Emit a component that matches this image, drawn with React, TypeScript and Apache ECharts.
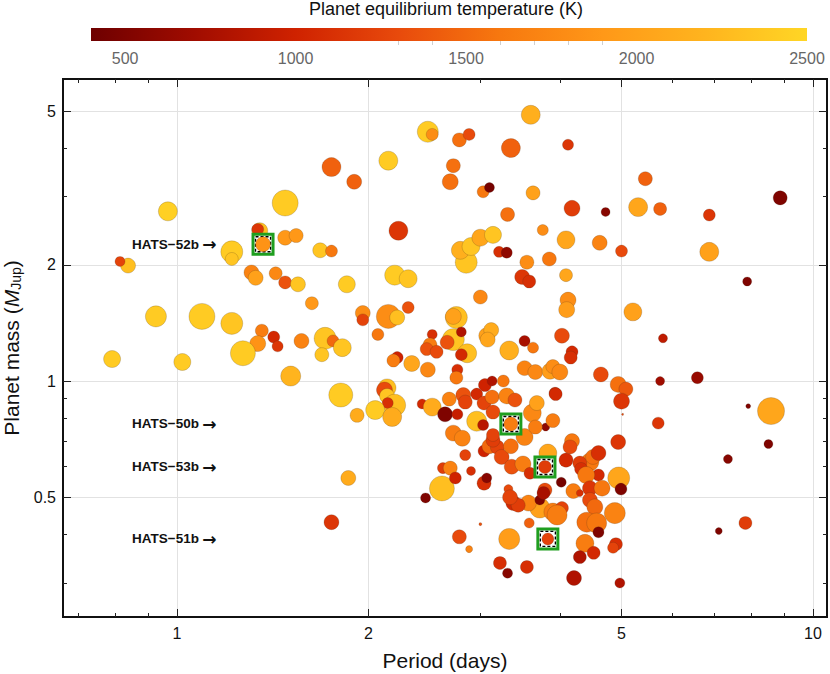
import React, { useEffect, useRef } from 'react';
import * as echarts from 'echarts';

// ---------- data ----------
const periodDays = [
  0.968, 1.48, 1.35, 1.34, 1.48, 1.54, 1.22, 1.22, 1.68, 1.75,
  0.838, 0.814, 1.31, 1.33, 1.43, 1.48, 1.55, 1.63, 0.927, 1.095,
  1.22, 1.36, 1.34, 1.42, 1.44, 1.27, 1.57, 0.791, 1.02, 1.51,
  2.85, 2.79, 2.90, 3.00, 3.14, 3.21, 3.30, 3.55, 3.85, 3.49,
  3.58, 3.00, 2.20, 2.31, 1.85, 1.96, 1.96, 2.15, 2.22, 2.31,
  2.07, 2.75, 2.72, 1.71, 1.76, 1.82, 1.69, 2.52, 2.50, 2.47,
  2.56, 2.72, 2.66, 2.80, 2.86, 2.80, 2.22, 2.19, 2.34, 2.48,
  2.76, 2.75, 3.07, 3.12, 3.08, 3.33, 3.52, 3.63, 3.52, 3.66,
  3.86, 3.90, 1.81, 1.92, 2.14, 2.12, 2.14, 2.20, 2.145, 2.05,
  2.18, 2.43, 2.52, 2.64, 2.76, 2.68, 2.82, 2.84, 2.96, 3.05,
  3.13, 3.26, 3.04, 3.13, 3.14, 3.30, 3.40, 2.96, 3.03, 3.62,
  3.68, 3.80, 3.93, 3.90, 3.60, 2.48, 2.52, 2.78, 2.88, 3.35,
  1.75, 2.15, 1.90, 2.72, 2.69, 3.03, 3.10, 3.63, 3.31, 3.76,
  2.23, 4.12, 5.45, 4.18, 4.72, 5.31, 5.75, 6.87, 8.88, 4.09,
  4.62, 5.0, 6.87, 4.09, 7.88, 4.12, 4.10, 5.21, 4.03, 5.81,
  4.18, 4.16, 4.00, 4.64, 5.75, 6.58, 4.94, 5.08, 5.0, 5.02,
  3.94, 7.91, 8.59, 5.71, 1.86, 1.75, 2.46, 2.61, 2.62, 2.69,
  2.74, 2.84, 2.90, 2.72, 2.81, 3.04, 3.07, 3.04, 3.10, 3.19,
  3.14, 3.24, 3.35, 3.36, 3.14, 3.52, 3.32, 3.00, 2.78, 2.88,
  3.33, 3.22, 3.31, 3.55, 3.58, 3.50, 3.59, 3.66, 3.83, 3.72,
  3.57, 3.90, 3.79, 3.72, 3.77, 3.38, 3.44, 3.34, 4.94, 8.51,
  7.35, 4.18, 4.15, 4.09, 4.46, 4.30, 4.32, 4.51, 4.60, 4.60,
  4.40, 4.95, 4.99, 4.02, 4.20, 4.30, 4.46, 4.66, 4.46, 4.54,
  4.03, 3.96, 4.41, 4.57, 4.88, 4.60, 4.38, 4.90, 4.85, 4.52,
  4.30, 4.21, 4.97, 7.11, 7.83,
];

const massMJ = [
  2.75, 2.89, 2.45, 2.47, 2.35, 2.38, 2.16, 2.07, 2.18, 2.17,
  1.99, 2.04, 1.91, 1.85, 1.90, 1.80, 1.78, 1.59, 1.47, 1.47,
  1.41, 1.35, 1.25, 1.30, 1.23, 1.18, 1.27, 1.14, 1.12, 1.03,
  2.03, 2.18, 2.23, 2.35, 2.39, 2.16, 2.15, 2.03, 2.07, 1.86,
  1.81, 1.65, 1.88, 1.84, 1.78, 1.50, 1.44, 1.47, 1.46, 1.55,
  1.32, 1.46, 1.47, 1.29, 1.27, 1.22, 1.17, 1.32, 1.24, 1.21,
  1.19, 1.28, 1.26, 1.34, 1.18, 1.17, 1.15, 1.13, 1.11, 1.07,
  1.07, 1.02, 1.31, 1.355, 1.28, 1.20, 1.27, 1.22, 1.08, 1.055,
  1.06, 1.09, 0.92, 0.815, 0.96, 0.948, 0.915, 0.866, 0.877, 0.841,
  0.807, 0.872, 0.856, 0.82, 0.82, 0.898, 0.92, 0.882, 0.925, 0.976,
  1.0, 1.0, 0.877, 0.909, 0.831, 0.915, 0.893, 0.787, 0.769, 0.826,
  0.877, 0.76, 0.93, 0.79, 4.89, 4.42, 4.35, 4.21, 4.35, 4.01,
  3.58, 3.72, 3.28, 3.61, 3.28, 3.09, 3.17, 3.07, 2.70, 2.46,
  2.45, 4.09, 3.34, 2.80, 2.74, 2.82, 2.79, 2.69, 2.98, 2.32,
  2.28, 2.17, 2.16, 1.88, 1.81, 1.62, 1.53, 1.51, 1.31, 1.29,
  1.19, 1.15, 1.055, 1.04, 1.0, 1.02, 0.98, 0.953, 0.887, 0.82,
  0.925, 0.861, 0.836, 0.778, 0.561, 0.431, 0.498, 0.527, 0.595, 0.595,
  0.561, 0.643, 0.585, 0.733, 0.711, 0.544, 0.561, 0.659, 0.678, 0.674,
  0.703, 0.636, 0.678, 0.60, 0.725, 0.716, 0.525, 0.426, 0.395, 0.367,
  0.39, 0.338, 0.318, 0.33, 0.429, 0.61, 0.577, 0.76, 0.651, 0.469,
  0.483, 0.458, 0.522, 0.492, 0.513, 0.483, 0.477, 0.50, 0.695, 0.687,
  0.628, 0.699, 0.675, 0.624, 0.617, 0.613, 0.592, 0.636, 0.651, 0.571,
  0.571, 0.561, 0.525, 0.547, 0.519, 0.513, 0.528, 0.528, 0.492, 0.472,
  0.469, 0.45, 0.431, 0.429, 0.455, 0.406, 0.38, 0.378, 0.37, 0.359,
  0.35, 0.309, 0.30, 0.409, 0.429,
];

const teqK = [
  2450, 2400, 2300, 1150, 1900, 1900, 2400, 2350, 2350, 1600,
  2300, 1250, 1700, 2000, 1750, 1350, 2350, 1900, 2400, 2400,
  2350, 1650, 1850, 1050, 1150, 2400, 1700, 2400, 2400, 2200,
  2350, 2150, 2350, 2050, 2350, 1100, 600, 1800, 1600, 1150,
  1100, 1750, 2400, 2350, 2400, 1800, 1250, 1800, 2300, 1350,
  1600, 2300, 2000, 2350, 1500, 2350, 2350, 1100, 1650, 1350,
  1300, 2350, 1350, 800, 2300, 1050, 1000, 1650, 2050, 1750,
  1100, 1600, 2000, 2100, 2050, 2150, 750, 1600, 1700, 1750,
  1950, 1800, 2400, 2100, 2300, 1300, 2350, 2300, 1100, 2400,
  2100, 1050, 2100, 500, 950, 1700, 1350, 1250, 1050, 1000,
  800, 1600, 1250, 1550, 1300, 1700, 1350, 2300, 850, 1750,
  2000, 600, 1050, 1650, 2150, 2400, 1800, 1550, 1300, 1450,
  1450, 2400, 1450, 1550, 1550, 1600, 450, 2000, 1550, 1800,
  1150, 1150, 1450, 1200, 550, 2050, 1450, 1150, 500, 2050,
  1700, 1300, 2000, 2050, 500, 1800, 1950, 2000, 1300, 900,
  1050, 1100, 1750, 1300, 700, 650, 1550, 1400, 1150, 1300,
  1050, 500, 2050, 1150, 2100, 1150, 500, 2300, 1200, 1700,
  1000, 1250, 1100, 1650, 1700, 1100, 550, 1000, 1500, 1250,
  1200, 1300, 1550, 1350, 1250, 1700, 1300, 1350, 1300, 1700,
  1950, 1100, 550, 1100, 1450, 1650, 1100, 1650, 2050, 2000,
  1700, 1650, 1300, 500, 750, 1050, 1200, 1250, 1150, 500,
  550, 1600, 1300, 1050, 1600, 1200, 1100, 1550, 1100, 1050,
  1600, 2050, 500, 450, 1650, 1100, 1150, 1600, 1300, 1500,
  1250, 1650, 1550, 1600, 1700, 500, 1650, 1100, 1250, 1050,
  800, 800, 800, 500, 1200,
];

const radiusRJ = [
  1.46, 2.0, 1.23, 0.92, 1.15, 1.08, 1.69, 1.0, 1.15, 0.92,
  1.15, 0.77, 1.15, 1.15, 1.0, 1.0, 1.15, 1.0, 1.62, 2.0,
  1.69, 1.0, 1.23, 0.92, 0.85, 1.92, 1.15, 1.31, 1.31, 1.54,
  1.69, 1.38, 1.38, 1.31, 1.31, 0.85, 0.85, 1.08, 1.08, 1.15,
  1.0, 1.08, 1.54, 1.38, 1.31, 1.15, 0.92, 1.85, 1.15, 0.92,
  0.92, 1.69, 1.23, 1.69, 0.92, 1.38, 1.08, 0.77, 1.08, 1.0,
  1.0, 1.69, 1.08, 0.77, 1.46, 0.92, 0.92, 1.0, 1.23, 1.15,
  0.85, 1.0, 1.23, 1.15, 1.15, 1.46, 0.85, 0.85, 1.15, 1.15,
  1.23, 1.08, 1.85, 1.08, 1.38, 1.23, 1.15, 1.69, 0.85, 1.46,
  1.46, 0.77, 1.38, 1.15, 0.85, 1.08, 1.15, 1.08, 0.92, 1.0,
  0.77, 0.92, 1.08, 1.08, 1.08, 1.23, 1.08, 1.54, 0.85, 1.38,
  1.15, 0.62, 0.92, 1.08, 1.46, 1.62, 0.92, 1.08, 0.92, 1.46,
  1.46, 1.46, 1.15, 1.08, 1.23, 0.92, 0.77, 1.08, 1.08, 0.85,
  1.46, 0.85, 1.08, 1.23, 0.69, 1.46, 1.0, 0.92, 1.08, 1.38,
  1.15, 0.92, 1.46, 1.0, 0.69, 1.23, 1.23, 1.38, 1.15, 0.69,
  0.92, 1.0, 1.23, 1.15, 0.69, 0.92, 1.23, 1.08, 1.23, 0.15,
  1.0, 0.38, 2.08, 0.92, 1.15, 1.15, 0.77, 1.92, 0.85, 1.08,
  0.92, 0.85, 0.69, 1.23, 1.23, 1.08, 0.77, 0.92, 1.15, 1.08,
  1.08, 1.15, 1.15, 1.15, 1.0, 1.31, 0.69, 0.23, 1.08, 0.54,
  1.62, 1.0, 0.77, 1.0, 0.77, 1.23, 0.92, 1.08, 1.38, 1.54,
  1.23, 1.38, 1.08, 0.77, 1.0, 1.15, 1.08, 1.15, 1.15, 0.69,
  0.69, 1.15, 1.08, 1.08, 1.38, 1.08, 1.0, 1.15, 1.15, 0.92,
  1.31, 1.69, 0.92, 0.77, 1.15, 0.54, 1.15, 1.23, 1.15, 1.23,
  1.0, 1.54, 1.54, 1.54, 1.62, 0.85, 1.38, 1.0, 0.85, 1.0,
  1.0, 1.15, 0.77, 0.54, 1.0,
];

const hatsNames = ['HATS-52b', 'HATS-50b', 'HATS-53b', 'HATS-51b'];
const hatsPeriod = [1.366, 3.35, 3.79, 3.83];
const hatsMass = [2.26, 0.774, 0.599, 0.39];
const hatsTeq = [1850, 1650, 1200, 1250];
const hatsRadius = [1.15, 1.08, 1.0, 0.92];

const xMajorTicks = [1, 2, 5, 10];
const xMinorTicks = [0.7, 0.8, 0.9, 3, 4, 6, 7, 8, 9];
const yMajorTicks = [0.5, 1, 2, 5];
const yMinorTicks = [0.3, 0.4, 0.6, 0.7, 0.8, 0.9, 3, 4];
const tempTicks = [500, 1000, 1500, 2000, 2500];
const tempMinorTicks = [1300, 1400, 1600, 1700, 1800, 1900];
const tempMin = 400;
const tempMax = 2500;
const tempColors = ['#6e0000', '#a00c00', '#cf2200', '#e84a0c', '#f7780f', '#ff9818', '#ffb41e', '#ffd625'];

// ---------- styling / layout ----------
const FONT = '"Liberation Sans", Arial, Helvetica, sans-serif';
const PX_PER_RJ = 13;
const X_EXT = [-0.179, 1.022];
const Y_EXT = [-0.611, 0.782];
const lg = (v: number) => Math.log10(v);
const fmtPow = (v: number) => String(Math.round(Math.pow(10, v) * 100) / 100);

function tickAxis(kind: 'x' | 'y', position: string, values: number[], len: number, labels: boolean, main: boolean): any {
  const ext = kind === 'x' ? X_EXT : Y_EXT;
  const logVals = values.map(lg);
  const ax: any = {
    gridIndex: 0,
    type: 'value',
    position,
    min: ext[0],
    max: ext[1],
    axisLine: { show: false, onZero: false },
    axisTick: { show: true, inside: true, length: len, customValues: logVals, lineStyle: { color: '#222', width: 1 } },
    axisLabel: labels
      ? { show: true, customValues: logVals, formatter: fmtPow, fontSize: 16, color: '#111', fontFamily: FONT, margin: kind === 'x' ? 8 : 7 }
      : { show: false },
    splitLine: main ? { show: true, lineStyle: { color: '#e2e2e2', width: 1 } } : { show: false },
  };
  return ax;
}

function buildOption(): any {
  const points = periodDays.map((p, i) => [lg(p), lg(massMJ[i]), teqK[i], radiusRJ[i]]);
  const hats = hatsNames.map((n, i) => [lg(hatsPeriod[i]), lg(hatsMass[i]), hatsTeq[i], hatsRadius[i]]);

  const xBottom = tickAxis('x', 'bottom', xMajorTicks, 8, true, true);
  xBottom.name = 'Period (days)';
  xBottom.nameLocation = 'middle';
  xBottom.nameGap = 33;
  xBottom.nameTextStyle = { fontSize: 21, color: '#111', fontFamily: FONT };

  const yLeft = tickAxis('y', 'left', yMajorTicks, 8, true, true);
  yLeft.name = '{a|Planet mass (}{i|M}{s|Jup}{a|)}';
  yLeft.nameLocation = 'middle';
  yLeft.nameRotate = 90;
  yLeft.nameGap = 37;
  yLeft.nameTextStyle = {
    fontFamily: FONT,
    rich: {
      a: { fontSize: 21, color: '#111', fontFamily: FONT, lineHeight: 22, verticalAlign: 'middle' },
      i: { fontSize: 21, color: '#111', fontFamily: FONT, fontStyle: 'italic', lineHeight: 22, verticalAlign: 'middle' },
      s: { fontSize: 14, color: '#111', fontFamily: FONT, verticalAlign: 'bottom', lineHeight: 22 },
    },
  };

  const gradient = new echarts.graphic.LinearGradient(
    0, 0, 1, 0,
    tempColors.map((c, i) => ({ offset: i / (tempColors.length - 1), color: c }))
  );

  return {
    animation: false,
    backgroundColor: '#ffffff',
    textStyle: { fontFamily: FONT },
    grid: [
      { left: 63, right: 3, top: 79, bottom: 57, show: true, borderColor: '#111', borderWidth: 2, backgroundColor: 'transparent', containLabel: false, outerBoundsMode: 'none' },
      { left: 91, right: 23, top: 28, height: 13, show: true, borderWidth: 0, backgroundColor: gradient, containLabel: false, outerBoundsMode: 'none' },
    ],
    xAxis: [
      xBottom,
      tickAxis('x', 'bottom', xMinorTicks, 4, false, false),
      tickAxis('x', 'top', xMajorTicks, 8, false, false),
      tickAxis('x', 'top', xMinorTicks, 4, false, false),
      {
        gridIndex: 1,
        type: 'value',
        position: 'bottom',
        min: tempMin,
        max: tempMax,
        axisLine: { show: false, onZero: false },
        axisTick: { show: true, length: 4, customValues: tempMinorTicks, lineStyle: { color: '#d0d0d0' } },
        axisLabel: { show: true, customValues: tempTicks, formatter: (v: number) => String(v), fontSize: 16, color: '#666', fontFamily: FONT, margin: 9 },
        splitLine: { show: false },
      },
    ],
    yAxis: [
      yLeft,
      tickAxis('y', 'left', yMinorTicks, 4, false, false),
      tickAxis('y', 'right', yMajorTicks, 8, false, false),
      tickAxis('y', 'right', yMinorTicks, 4, false, false),
      {
        gridIndex: 1,
        type: 'category',
        data: ['T'],
        show: false,
      },
    ],
    visualMap: {
      show: false,
      type: 'continuous',
      min: tempMin,
      max: tempMax,
      dimension: 2,
      seriesIndex: [0, 3],
      inRange: { color: tempColors },
    },
    series: [
      {
        type: 'scatter',
        xAxisIndex: 0,
        yAxisIndex: 0,
        data: points,
        symbol: 'circle',
        symbolSize: (v: number[]) => v[3] * PX_PER_RJ,
        itemStyle: { opacity: 1, borderColor: 'rgba(70,50,30,0.35)', borderWidth: 0.6 },
        emphasis: { disabled: true },
        z: 2,
      },
      {
        type: 'scatter',
        xAxisIndex: 0,
        yAxisIndex: 0,
        data: hats.map((h) => [h[0], h[1]]),
        symbol: 'rect',
        symbolSize: 20,
        itemStyle: { color: '#ffffff', borderColor: '#1f9e1f', borderWidth: 3, opacity: 1 },
        emphasis: { disabled: true },
        z: 3,
      },
      {
        type: 'scatter',
        xAxisIndex: 0,
        yAxisIndex: 0,
        data: hats.map((h) => [h[0], h[1]]),
        symbol: 'rect',
        symbolSize: 15,
        itemStyle: { color: 'rgba(255,255,255,0)', borderColor: '#000', borderWidth: 1.3, borderType: [3, 2], opacity: 1 },
        emphasis: { disabled: true },
        z: 4,
      },
      {
        type: 'scatter',
        xAxisIndex: 0,
        yAxisIndex: 0,
        data: hats,
        symbol: 'circle',
        symbolSize: (v: number[]) => v[3] * PX_PER_RJ,
        itemStyle: { opacity: 1, borderColor: 'rgba(70,50,30,0.35)', borderWidth: 0.6 },
        emphasis: { disabled: true },
        z: 5,
      },
    ],
  };
}

export default function App() {
  const ref = useRef<HTMLDivElement>(null);
  useEffect(() => {
    const el = ref.current;
    if (!el) return;
    const chart = echarts.init(el, null, { renderer: 'svg' });
    chart.setOption(buildOption());
    const labels = hatsNames.map((name, i) => {
      const pt = chart.convertToPixel({ xAxisIndex: 0, yAxisIndex: 0 }, [lg(hatsPeriod[i]), lg(hatsMass[i])]) as number[];
      return {
        type: 'text',
        id: 'hats-label-' + i,
        x: 132,
        y: pt[1],
        z: 10,
        style: {
          text: '{n|' + name.replace('-', '\u2212') + '} {r|\u2192}',
          align: 'left',
          verticalAlign: 'middle',
          rich: {
            n: { fontSize: 13.5, fontWeight: 'bold', fontFamily: FONT, fill: '#111', color: '#111' },
            r: { fontSize: 17, fontWeight: 'bold', fontFamily: '"DejaVu Sans", sans-serif', fill: '#111', color: '#111' },
          },
        },
      };
    });
    chart.setOption({
      graphic: [
        {
          type: 'text',
          id: 'cbar-title',
          x: 446,
          y: 9,
          style: {
            text: 'Planet equilibrium temperature (K)',
            fontSize: 18,
            fontFamily: FONT,
            fill: '#111',
            align: 'center',
            verticalAlign: 'middle',
          },
        },
        ...labels,
      ],
    });
    return () => chart.dispose();
  }, []);
  return <div ref={ref} style={{ position: 'absolute', left: 0, top: 0, width: 830, height: 674 }} />;
}
